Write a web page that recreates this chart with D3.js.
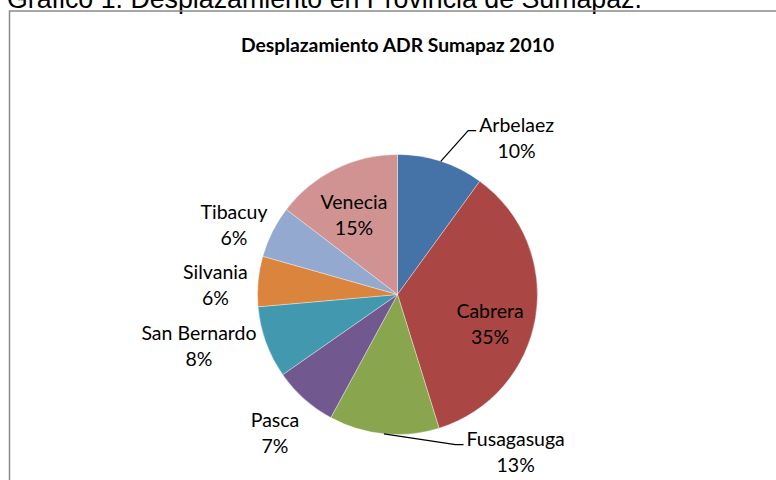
<!DOCTYPE html>
<html lang="es">
  <head>
    <meta charset="utf-8" />
    <script src="https://d3js.org/d3.v7.min.js"></script>
    <style>
      body { margin: 0; background: #fff; }
      svg { display: block; }
      .lbl { font-family: Lato, 'Open Sans', sans-serif; font-size: 19.5px; fill: #000; }
    </style>
  </head>
  <body>
    <svg id="chart" width="776" height="480"></svg>
    <script>
      // data (share of displaced people, %)
      const municipios = ['Arbelaez', 'Cabrera', 'Fusagasuga', 'Pasca', 'San Bernardo', 'Silvania', 'Tibacuy', 'Venecia'];
      const shares = [10.0, 35.2, 12.7, 7.4, 8.3, 5.8, 6.0, 14.6];
      const sliceColors = ['#4572a7', '#aa4643', '#89a54e', '#71588f', '#4198af', '#db843d', '#93a9cf', '#d19392'];

      const caption = 'Gráfico 1. Desplazamiento en Provincia de Sumapaz.';
      const chartTitle = 'Desplazamiento ADR Sumapaz 2010';

      // label block centre relative to pie centre, in radii; leader lines for the outside ones
      const labelPlace = {
        'Arbelaez': { dx: 0.851, dy: -1.114, leader: true },
        'Cabrera': { dx: 0.661, dy: 0.216 },
        'Fusagasuga': { dx: 0.844, dy: 1.13, leader: true },
        'Pasca': { dx: -0.875, dy: 0.991 },
        'San Bernardo': { dx: -1.418, dy: 0.374 },
        'Silvania': { dx: -1.301, dy: -0.064 },
        'Tibacuy': { dx: -1.168, dy: -0.495 },
        'Venecia': { dx: -0.311, dy: -0.566 }
      };

      const svg = d3.select('#chart');
      const cx = 397.5, cy = 294.5, radius = 140;
      const lineGap = 26;

      // caption above the chart frame (partly cut off in the page)
      const cap = svg.append('text')
        .attr('x', 7).attr('y', 7.5)
        .style('font-family', "'Liberation Sans', Arial, sans-serif")
        .style('font-size', '22px')
        .text(caption);
      const capW = cap.node().getComputedTextLength();
      cap.style('font-size', (22 * 635 / capW) + 'px');

      // chart frame
      svg.append('rect')
        .attr('x', 9.5).attr('y', 11)
        .attr('width', 800).attr('height', 500)
        .attr('fill', 'none')
        .attr('stroke', '#8a8a8a')
        .attr('stroke-width', 1.5);

      svg.append('text')
        .attr('x', cx).attr('y', 51.5)
        .attr('text-anchor', 'middle')
        .style('font-family', "Lato, 'Open Sans', sans-serif")
        .style('font-weight', 'bold')
        .style('font-size', '19.3px')
        .text(chartTitle);

      const data = municipios.map((name, i) => ({ name, value: shares[i], color: sliceColors[i] }));
      const total = d3.sum(shares);

      const pie = d3.pie().sort(null).value(d => d.value);
      const arc = d3.arc().innerRadius(0).outerRadius(radius);
      const arcs = pie(data);

      const g = svg.append('g').attr('transform', `translate(${cx},${cy})`);

      g.selectAll('path.slice')
        .data(arcs)
        .enter()
        .append('path')
        .attr('class', 'slice')
        .attr('d', arc)
        .attr('fill', d => d.data.color)
        .attr('stroke', '#fff')
        .attr('stroke-width', 0.6)
        .attr('stroke-opacity', 0.6);

      // labels
      const labels = g.selectAll('g.label')
        .data(arcs)
        .enter()
        .append('g')
        .attr('class', 'label');

      labels.each(function (d) {
        const p = labelPlace[d.data.name];
        const x = p.dx * radius;
        const midY = p.dy * radius;
        const b1 = midY - lineGap / 2 + 6.5;
        const t = d3.select(this).append('text')
          .attr('class', 'lbl')
          .attr('text-anchor', 'middle');
        t.append('tspan').attr('x', x).attr('y', b1).text(d.data.name);
        t.append('tspan').attr('x', x).attr('y', b1 + lineGap)
          .text(Math.round(d.value / total * 100) + '%');

        if (p.leader) {
          const box = t.node().getBBox();
          const a = (d.startAngle + d.endAngle) / 2;
          const sx = Math.sin(a) * radius, sy = -Math.cos(a) * radius;
          const ex = box.x - 3, ey = b1 - 1.5;
          d3.select(this).insert('path', 'text')
            .attr('d', d3.line()([[sx, sy], [ex - 8, ey], [ex, ey]]))
            .attr('fill', 'none')
            .attr('stroke', '#000')
            .attr('stroke-width', 1.2);
        }
      });
    </script>
  </body>
</html>
